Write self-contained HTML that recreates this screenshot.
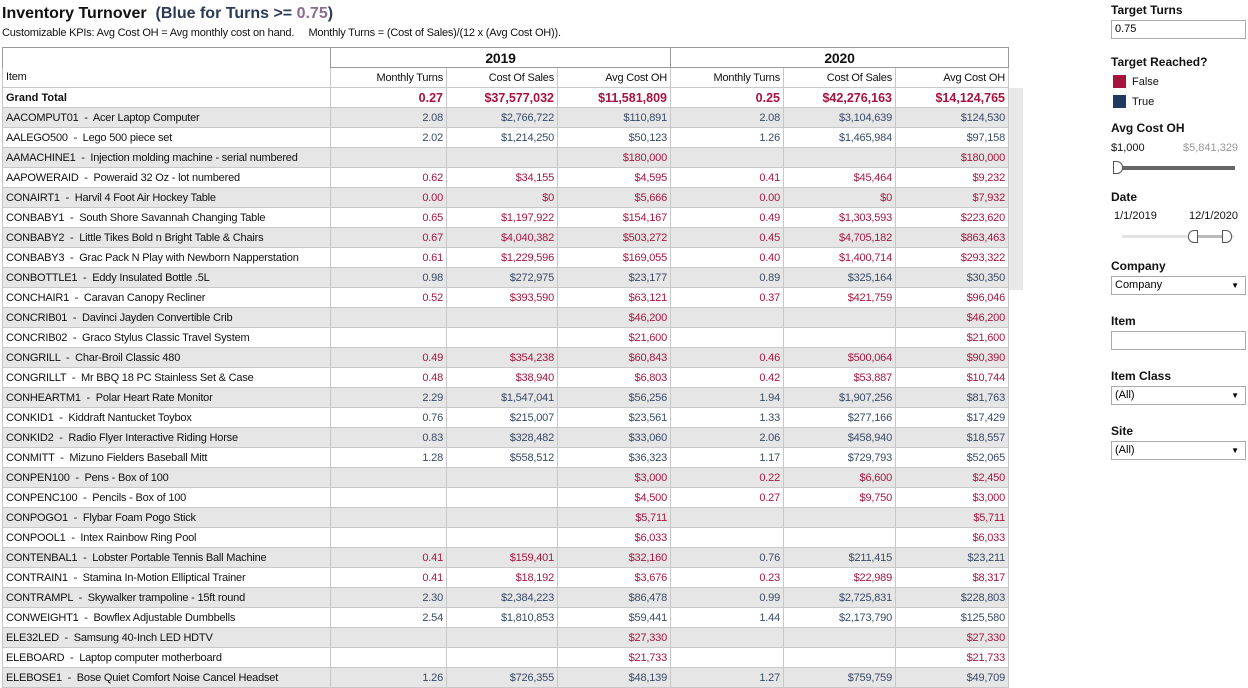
<!DOCTYPE html>
<html><head><meta charset="utf-8"><style>
*{margin:0;padding:0;box-sizing:border-box}
body{width:1248px;height:680px;overflow:hidden;background:#fff;font-family:"Liberation Sans",sans-serif;color:#000;position:relative}
.t{position:absolute;left:2px;top:5px;font-weight:bold;font-size:16px;color:#111}
.t span{color:#2b3a55}.t b{color:#8a6d8e}
.s{position:absolute;left:2px;top:27px;font-size:11px;color:#111;letter-spacing:-0.2px}
table{position:absolute;left:2px;top:47px;width:1006px;border-collapse:collapse;table-layout:fixed;font-size:11px;letter-spacing:-0.2px}
td{height:20px;border:1px solid #c8c8c8;padding:0 3px;white-space:nowrap;overflow:hidden;text-align:right;color:#a8163f}
td.i{text-align:left;color:#111}
tr.g td{background:#e6e6e6}
td.b{color:#3a4a66}
.h td{color:#111}
.yr td{font-weight:bold;font-size:14px;text-align:center;border-color:#999}
.gt td{font-weight:bold;font-size:12.5px;color:#a8123e;letter-spacing:0}
.scr{position:absolute;left:1009px;top:88px;width:14px;height:202px;background:#e8e8e8}
.p{position:absolute;left:1111px;font-size:11px;color:#111}
.p.h{font-weight:bold;font-size:12px}
.box{position:absolute;left:1111px;width:135px;height:19px;border:1px solid #aaa;font-size:11px;padding:2px 3px}
.sw{position:absolute;left:1113px;width:13px;height:13px}
</style></head><body>
<div class="t">Inventory Turnover &nbsp;<span>(Blue for Turns &gt;= <b>0.75</b>)</span></div>
<div class="s">Customizable KPIs: Avg Cost OH = Avg monthly cost on hand. &nbsp;&nbsp;&nbsp;&nbsp;Monthly Turns = (Cost of Sales)/(12 x (Avg Cost OH)).</div>
<div class="scr"></div>
<table>
<colgroup><col style="width:328px"><col style="width:116px"><col style="width:111px"><col style="width:113px"><col style="width:113px"><col style="width:112px"><col style="width:113px"></colgroup>
<tr class="yr"><td style="border-bottom:none"></td><td colspan="3" style="color:#111">2019</td><td colspan="3" style="color:#111">2020</td></tr>
<tr class="h"><td class="i" style="border-top:none">Item</td><td>Monthly Turns</td><td>Cost Of Sales</td><td>Avg Cost OH</td><td>Monthly Turns</td><td>Cost Of Sales</td><td>Avg Cost OH</td></tr>
<tr class="gt"><td class="i" style="color:#111;font-size:11px">Grand Total</td><td>0.27</td><td>$37,577,032</td><td>$11,581,809</td><td>0.25</td><td>$42,276,163</td><td>$14,124,765</td></tr>
<tr class="g"><td class="i">AACOMPUT01 &nbsp;-&nbsp; Acer Laptop Computer</td><td class="b">2.08</td><td class="b">$2,766,722</td><td class="b">$110,891</td><td class="b">2.08</td><td class="b">$3,104,639</td><td class="b">$124,530</td></tr>
<tr><td class="i">AALEGO500 &nbsp;-&nbsp; Lego 500 piece set</td><td class="b">2.02</td><td class="b">$1,214,250</td><td class="b">$50,123</td><td class="b">1.26</td><td class="b">$1,465,984</td><td class="b">$97,158</td></tr>
<tr class="g"><td class="i">AAMACHINE1 &nbsp;-&nbsp; Injection molding machine - serial numbered</td><td></td><td></td><td>$180,000</td><td></td><td></td><td>$180,000</td></tr>
<tr><td class="i">AAPOWERAID &nbsp;-&nbsp; Poweraid 32 Oz - lot numbered</td><td>0.62</td><td>$34,155</td><td>$4,595</td><td>0.41</td><td>$45,464</td><td>$9,232</td></tr>
<tr class="g"><td class="i">CONAIRT1 &nbsp;-&nbsp; Harvil 4 Foot Air Hockey Table</td><td>0.00</td><td>$0</td><td>$5,666</td><td>0.00</td><td>$0</td><td>$7,932</td></tr>
<tr><td class="i">CONBABY1 &nbsp;-&nbsp; South Shore Savannah Changing Table</td><td>0.65</td><td>$1,197,922</td><td>$154,167</td><td>0.49</td><td>$1,303,593</td><td>$223,620</td></tr>
<tr class="g"><td class="i">CONBABY2 &nbsp;-&nbsp; Little Tikes Bold n Bright Table &amp; Chairs</td><td>0.67</td><td>$4,040,382</td><td>$503,272</td><td>0.45</td><td>$4,705,182</td><td>$863,463</td></tr>
<tr><td class="i">CONBABY3 &nbsp;-&nbsp; Grac Pack N Play with Newborn Napperstation</td><td>0.61</td><td>$1,229,596</td><td>$169,055</td><td>0.40</td><td>$1,400,714</td><td>$293,322</td></tr>
<tr class="g"><td class="i">CONBOTTLE1 &nbsp;-&nbsp; Eddy Insulated Bottle .5L</td><td class="b">0.98</td><td class="b">$272,975</td><td class="b">$23,177</td><td class="b">0.89</td><td class="b">$325,164</td><td class="b">$30,350</td></tr>
<tr><td class="i">CONCHAIR1 &nbsp;-&nbsp; Caravan Canopy Recliner</td><td>0.52</td><td>$393,590</td><td>$63,121</td><td>0.37</td><td>$421,759</td><td>$96,046</td></tr>
<tr class="g"><td class="i">CONCRIB01 &nbsp;-&nbsp; Davinci Jayden Convertible Crib</td><td></td><td></td><td>$46,200</td><td></td><td></td><td>$46,200</td></tr>
<tr><td class="i">CONCRIB02 &nbsp;-&nbsp; Graco Stylus Classic Travel System</td><td></td><td></td><td>$21,600</td><td></td><td></td><td>$21,600</td></tr>
<tr class="g"><td class="i">CONGRILL &nbsp;-&nbsp; Char-Broil Classic 480</td><td>0.49</td><td>$354,238</td><td>$60,843</td><td>0.46</td><td>$500,064</td><td>$90,390</td></tr>
<tr><td class="i">CONGRILLT &nbsp;-&nbsp; Mr BBQ 18 PC Stainless Set &amp; Case</td><td>0.48</td><td>$38,940</td><td>$6,803</td><td>0.42</td><td>$53,887</td><td>$10,744</td></tr>
<tr class="g"><td class="i">CONHEARTM1 &nbsp;-&nbsp; Polar Heart Rate Monitor</td><td class="b">2.29</td><td class="b">$1,547,041</td><td class="b">$56,256</td><td class="b">1.94</td><td class="b">$1,907,256</td><td class="b">$81,763</td></tr>
<tr><td class="i">CONKID1 &nbsp;-&nbsp; Kiddraft Nantucket Toybox</td><td class="b">0.76</td><td class="b">$215,007</td><td class="b">$23,561</td><td class="b">1.33</td><td class="b">$277,166</td><td class="b">$17,429</td></tr>
<tr class="g"><td class="i">CONKID2 &nbsp;-&nbsp; Radio Flyer Interactive Riding Horse</td><td class="b">0.83</td><td class="b">$328,482</td><td class="b">$33,060</td><td class="b">2.06</td><td class="b">$458,940</td><td class="b">$18,557</td></tr>
<tr><td class="i">CONMITT &nbsp;-&nbsp; Mizuno Fielders Baseball Mitt</td><td class="b">1.28</td><td class="b">$558,512</td><td class="b">$36,323</td><td class="b">1.17</td><td class="b">$729,793</td><td class="b">$52,065</td></tr>
<tr class="g"><td class="i">CONPEN100 &nbsp;-&nbsp; Pens - Box of 100</td><td></td><td></td><td>$3,000</td><td>0.22</td><td>$6,600</td><td>$2,450</td></tr>
<tr><td class="i">CONPENC100 &nbsp;-&nbsp; Pencils - Box of 100</td><td></td><td></td><td>$4,500</td><td>0.27</td><td>$9,750</td><td>$3,000</td></tr>
<tr class="g"><td class="i">CONPOGO1 &nbsp;-&nbsp; Flybar Foam Pogo Stick</td><td></td><td></td><td>$5,711</td><td></td><td></td><td>$5,711</td></tr>
<tr><td class="i">CONPOOL1 &nbsp;-&nbsp; Intex Rainbow Ring Pool</td><td></td><td></td><td>$6,033</td><td></td><td></td><td>$6,033</td></tr>
<tr class="g"><td class="i">CONTENBAL1 &nbsp;-&nbsp; Lobster Portable Tennis Ball Machine</td><td>0.41</td><td>$159,401</td><td>$32,160</td><td class="b">0.76</td><td class="b">$211,415</td><td class="b">$23,211</td></tr>
<tr><td class="i">CONTRAIN1 &nbsp;-&nbsp; Stamina In-Motion Elliptical Trainer</td><td>0.41</td><td>$18,192</td><td>$3,676</td><td>0.23</td><td>$22,989</td><td>$8,317</td></tr>
<tr class="g"><td class="i">CONTRAMPL &nbsp;-&nbsp; Skywalker trampoline - 15ft round</td><td class="b">2.30</td><td class="b">$2,384,223</td><td class="b">$86,478</td><td class="b">0.99</td><td class="b">$2,725,831</td><td class="b">$228,803</td></tr>
<tr><td class="i">CONWEIGHT1 &nbsp;-&nbsp; Bowflex Adjustable Dumbbells</td><td class="b">2.54</td><td class="b">$1,810,853</td><td class="b">$59,441</td><td class="b">1.44</td><td class="b">$2,173,790</td><td class="b">$125,580</td></tr>
<tr class="g"><td class="i">ELE32LED &nbsp;-&nbsp; Samsung 40-Inch LED HDTV</td><td></td><td></td><td>$27,330</td><td></td><td></td><td>$27,330</td></tr>
<tr><td class="i">ELEBOARD &nbsp;-&nbsp; Laptop computer motherboard</td><td></td><td></td><td>$21,733</td><td></td><td></td><td>$21,733</td></tr>
<tr class="g"><td class="i">ELEBOSE1 &nbsp;-&nbsp; Bose Quiet Comfort Noise Cancel Headset</td><td class="b">1.26</td><td class="b">$726,355</td><td class="b">$48,139</td><td class="b">1.27</td><td class="b">$759,759</td><td class="b">$49,709</td></tr>
</table>

<div class="p h" style="top:3px">Target Turns</div>
<div class="box" style="top:20px">0.75</div>
<div class="p h" style="top:55px">Target Reached?</div>
<div class="sw" style="top:75px;background:#a8123e"></div><div class="p" style="left:1132px;top:76px">False</div>
<div class="sw" style="top:95px;background:#1f3a5f"></div><div class="p" style="left:1132px;top:96px">True</div>
<div class="p h" style="top:121px">Avg Cost OH</div>
<div class="p" style="top:142px">$1,000</div><div class="p" style="left:1183px;top:142px;color:#999">$5,841,329</div>
<div style="position:absolute;left:1115px;top:166px;width:120px;height:4px;background:#666"></div>
<div style="position:absolute;left:1113px;top:161px;width:10px;height:13px;border:1px solid #555;border-radius:0 6px 6px 0;background:#fff"></div>
<div class="p h" style="top:190px">Date</div>
<div class="p" style="left:1114px;top:210px">1/1/2019</div><div class="p" style="left:1189px;top:210px">12/1/2020</div>
<div style="position:absolute;left:1122px;top:235px;width:112px;height:3px;background:#e3e3e3"></div>
<div style="position:absolute;left:1193px;top:235px;width:33px;height:3px;background:#bbb"></div>
<div style="position:absolute;left:1188px;top:230px;width:10px;height:13px;border:1px solid #555;border-radius:6px 0 0 6px;background:#fff"></div>
<div style="position:absolute;left:1222px;top:230px;width:10px;height:13px;border:1px solid #555;border-radius:0 6px 6px 0;background:#fff"></div>
<div class="p h" style="top:259px">Company</div>
<div class="box" style="top:276px">Company<span style="position:absolute;right:6px;font-size:8px;top:4px">▼</span></div>
<div class="p h" style="top:314px">Item</div>
<div class="box" style="top:331px"></div>
<div class="p h" style="top:369px">Item Class</div>
<div class="box" style="top:386px">(All)<span style="position:absolute;right:6px;font-size:8px;top:4px">▼</span></div>
<div class="p h" style="top:424px">Site</div>
<div class="box" style="top:441px">(All)<span style="position:absolute;right:6px;font-size:8px;top:4px">▼</span></div>
</body></html>
